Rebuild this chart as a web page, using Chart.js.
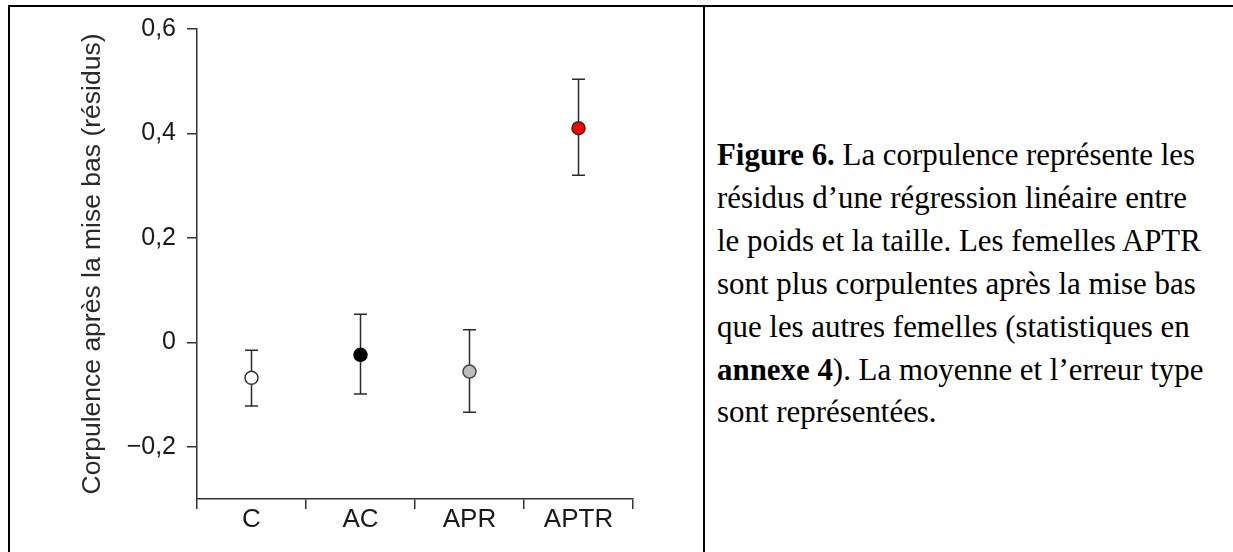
<!DOCTYPE html>
<html lang="fr">
<head>
    <meta charset="UTF-8">
    <title>Figure 6</title>
    <script src="https://cdn.jsdelivr.net/npm/chart.js"></script>
    <style>
        body {
            margin: 0;
            padding: 0;
            background-color: #ffffff;
            width: 1233px;
            height: 552px;
            overflow: hidden;
            position: relative;
        }

        .ligne {
            position: absolute;
            background-color: #000;
        }

        .bord-haut { left: 8px; top: 5px; width: 1225px; height: 2px; }
        .bord-gauche { left: 8px; top: 5px; width: 2px; height: 547px; }
        .separateur { left: 703px; top: 5px; width: 2px; height: 547px; }

        .graphique {
            position: absolute;
            left: 10px;
            top: 8px;
        }

        .legende {
            position: absolute;
            left: 717px;
            top: 134px;
            font-family: 'Liberation Serif', 'Times New Roman', serif;
            font-size: 30.9px;
            line-height: 42.9px;
            color: #000;
            white-space: nowrap;
        }
    </style>
</head>
<body>
    <div class="ligne bord-haut"></div>
    <div class="ligne bord-gauche"></div>
    <div class="ligne separateur"></div>

    <canvas id="chart1" class="graphique" width="693" height="544"></canvas>

    <div class="legende">
        <b>Figure 6.</b> La corpulence représente les<br>
        résidus d’une régression linéaire entre<br>
        le poids et la taille. Les femelles APTR<br>
        sont plus corpulentes après la mise bas<br>
        que les autres femelles (statistiques en<br>
        <b>annexe 4</b>). La moyenne et l’erreur type<br>
        sont représentées.
    </div>

    <script>
        // donnees
        var categories = ['C', 'AC', 'APR', 'APTR'];
        var moyennes = [-0.068, -0.024, -0.056, 0.41];
        var erreurHaut = [-0.015, 0.054, 0.024, 0.504];
        var erreurBas = [-0.122, -0.099, -0.134, 0.32];
        var yTicks = [-0.2, 0, 0.2, 0.4, 0.6];
        var yTickLabels = ['\u22120,2', '0', '0,2', '0,4', '0,6'];

        var police = "'Liberation Sans', Arial, sans-serif";

        // barres d'erreur dessinees sous les points
        var barresErreur = {
            id: 'barresErreur',
            beforeDatasetsDraw: function (chart) {
                var ctx = chart.ctx;
                var x = chart.scales.x;
                var y = chart.scales.y;
                ctx.save();
                ctx.strokeStyle = '#2b2b2b';
                ctx.lineWidth = 1.5;
                categories.forEach(function (c, i) {
                    var px = x.getPixelForValue(i);
                    var haut = y.getPixelForValue(erreurHaut[i]);
                    var bas = y.getPixelForValue(erreurBas[i]);
                    ctx.beginPath();
                    ctx.moveTo(px, haut);
                    ctx.lineTo(px, bas);
                    ctx.moveTo(px - 6.5, haut);
                    ctx.lineTo(px + 6.5, haut);
                    ctx.moveTo(px - 6.5, bas);
                    ctx.lineTo(px + 6.5, bas);
                    ctx.stroke();
                });
                ctx.restore();
            }
        };

        var ctx1 = document.getElementById('chart1').getContext('2d');
        var chart1 = new Chart(ctx1, {
            type: 'line',
            data: {
                labels: categories,
                datasets: [{
                    data: moyennes,
                    showLine: false,
                    pointRadius: 6.5,
                    pointBorderWidth: 1.5,
                    pointBackgroundColor: ['#ffffff', '#000000', '#bdbdbd', '#ff0000'],
                    pointBorderColor: ['#333333', '#000000', '#444444', '#3a2a1a']
                }]
            },
            plugins: [barresErreur],
            options: {
                responsive: false,
                animation: false,
                layout: {
                    padding: { left: 0, top: 21, right: 70, bottom: 0 }
                },
                plugins: {
                    legend: { display: false },
                    tooltip: { enabled: false }
                },
                scales: {
                    x: {
                        type: 'category',
                        offset: true,
                        grid: {
                            offset: true,
                            drawOnChartArea: false,
                            drawTicks: true,
                            tickLength: 10,
                            color: '#333',
                            lineWidth: 1.5
                        },
                        border: { color: '#333', width: 1.5 },
                        ticks: {
                            color: '#1a1a1a',
                            padding: -2,
                            maxRotation: 0,
                            font: { family: police, size: 26, lineHeight: 1 }
                        },
                        afterFit: function (s) {
                            s.height = 53;
                            s.paddingLeft = 0;
                            s.paddingRight = 0;
                        }
                    },
                    y: {
                        min: -0.3,
                        max: 0.6,
                        grid: {
                            drawOnChartArea: false,
                            drawTicks: true,
                            tickLength: 10,
                            color: '#333',
                            lineWidth: 1.5
                        },
                        border: { color: '#333', width: 1.5 },
                        afterBuildTicks: function (s) {
                            s.ticks = yTicks.map(function (v) { return { value: v }; });
                        },
                        ticks: {
                            color: '#1a1a1a',
                            padding: 11,
                            font: { family: police, size: 25 },
                            callback: function (v) {
                                var i = yTicks.indexOf(v);
                                return i >= 0 ? yTickLabels[i] : '';
                            }
                        },
                        title: {
                            display: true,
                            text: 'Corpulence après la mise bas (résidus)',
                            color: '#2a2a2a',
                            padding: { top: 67, bottom: 0 },
                            font: { family: police, size: 26.5 }
                        },
                        afterFit: function (s) {
                            s.width = 187;
                            s.paddingTop = 0;
                            s.paddingBottom = 0;
                        }
                    }
                }
            }
        });
    </script>
</body>
</html>
